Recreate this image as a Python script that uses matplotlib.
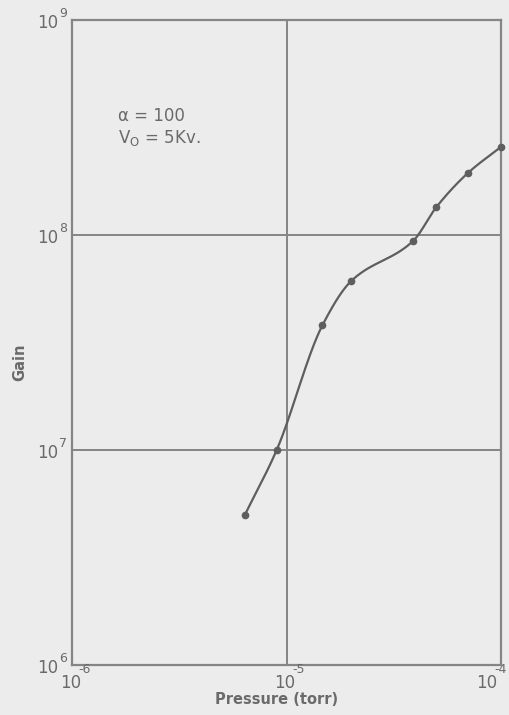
import numpy as np
import matplotlib
matplotlib.use("Agg")
import matplotlib.pyplot as plt
from matplotlib.transforms import offset_copy

# Data
pressure = [6.4e-6, 9.0e-6, 1.47e-5, 2.0e-5, 3.9e-5, 5.0e-5, 7.0e-5, 1.0e-4]
gain = [5.0e6, 1.0e7, 3.8e7, 6.1e7, 9.4e7, 1.35e8, 1.94e8, 2.57e8]
x_ticks = [1e-6, 1e-5, 1e-4]
x_exponents = ["-6", "-5", "-4"]
y_ticks = [1e6, 1e7, 1e8, 1e9]
y_exponents = ["6", "7", "8", "9"]


def pchip(x, y, xs):
    x = np.asarray(x, float); y = np.asarray(y, float)
    h = np.diff(x); d = np.diff(y) / h
    n = len(x)
    m = np.zeros(n)
    for i in range(1, n - 1):
        if d[i - 1] * d[i] <= 0:
            m[i] = 0
        else:
            w1 = 2 * h[i] + h[i - 1]; w2 = h[i] + 2 * h[i - 1]
            m[i] = (w1 + w2) / (w1 / d[i - 1] + w2 / d[i])
    m[0] = d[0]
    m[-1] = d[-1]
    out = np.empty_like(xs)
    for k, xv in enumerate(xs):
        i = min(max(np.searchsorted(x, xv) - 1, 0), n - 2)
        t = (xv - x[i]) / h[i]
        h00 = 2 * t ** 3 - 3 * t ** 2 + 1
        h10 = t ** 3 - 2 * t ** 2 + t
        h01 = -2 * t ** 3 + 3 * t ** 2
        h11 = t ** 3 - t ** 2
        out[k] = h00 * y[i] + h10 * h[i] * m[i] + h01 * y[i + 1] + h11 * h[i] * m[i + 1]
    return out


bg = "#ececec"
line_col = "#858585"
curve_col = "#5e5e5e"
text_col = "#6a6a6a"

fig = plt.figure(figsize=(5.09, 7.15), dpi=100, facecolor=bg)
ax = fig.add_axes([72 / 509, 1 - 665 / 715, (501 - 72) / 509, (665 - 20) / 715])
ax.set_facecolor(bg)
ax.set_xscale('log'); ax.set_yscale('log')
ax.set_xlim(1e-6, 1e-4); ax.set_ylim(1e6, 1e9)

lx = np.log10(pressure); ly = np.log10(gain)
xs = np.linspace(lx[0], lx[-1], 400)
ys = pchip(lx, ly, xs)
ax.plot(10 ** xs, 10 ** ys, color=curve_col, lw=1.6, solid_capstyle='round', clip_on=False, zorder=3)
ax.plot(pressure, gain, 'o', color=curve_col, ms=4.5, clip_on=False, zorder=4)

for v in x_ticks[1:-1]:
    ax.axvline(v, color=line_col, lw=1.4, zorder=1)
for v in y_ticks[1:-1]:
    ax.axhline(v, color=line_col, lw=1.4, zorder=1)
for s in ax.spines.values():
    s.set_color(line_col); s.set_linewidth(1.6)

ax.minorticks_off()
ax.set_xticks(x_ticks)
ax.set_yticks(y_ticks)
ax.set_xticklabels([])
ax.set_yticklabels([])
ax.tick_params(length=0)

xt = ax.get_xaxis_transform()
for i, (v, e) in enumerate(zip(x_ticks, x_exponents)):
    shift = -9 if i == len(x_ticks) - 1 else 0
    ax.text(v, 0, "10", transform=offset_copy(xt, fig=fig, x=shift - 1, y=-13, units='points'),
            ha='center', va='center', fontsize=12, color=text_col, clip_on=False)
    ax.text(v, 0, e, transform=offset_copy(xt, fig=fig, x=shift + 4.5, y=-3, units='points'),
            ha='left', va='center', fontsize=9, color=text_col, clip_on=False)
yt = ax.get_yaxis_transform()
for v, e in zip(y_ticks, y_exponents):
    ax.text(0, v, "10", transform=offset_copy(yt, fig=fig, x=-10, y=-2, units='points'),
            ha='right', va='center', fontsize=12, color=text_col, clip_on=False)
    ax.text(0, v, e, transform=offset_copy(yt, fig=fig, x=-9, y=5, units='points'),
            ha='left', va='center', fontsize=9, color=text_col, clip_on=False)

fig.text(277 / 509, 1 - 700 / 715, "Pressure (torr)", ha='center', va='center',
         fontsize=10.5, fontweight='bold', color=text_col)
fig.text(20 / 509, 1 - 362 / 715, "Gain", ha='center', va='center', rotation=90,
         fontsize=10.5, fontweight='bold', color=text_col)
fig.text(118 / 509, 1 - 116 / 715, "α = 100", ha='left', va='center',
         fontsize=12, color=text_col)
fig.text(118 / 509, 1 - 138 / 715, r"V$_\mathregular{O}$ = 5Kv.", ha='left', va='center',
         fontsize=12, color=text_col)

fig.savefig("out.png", dpi=100, facecolor=bg)
